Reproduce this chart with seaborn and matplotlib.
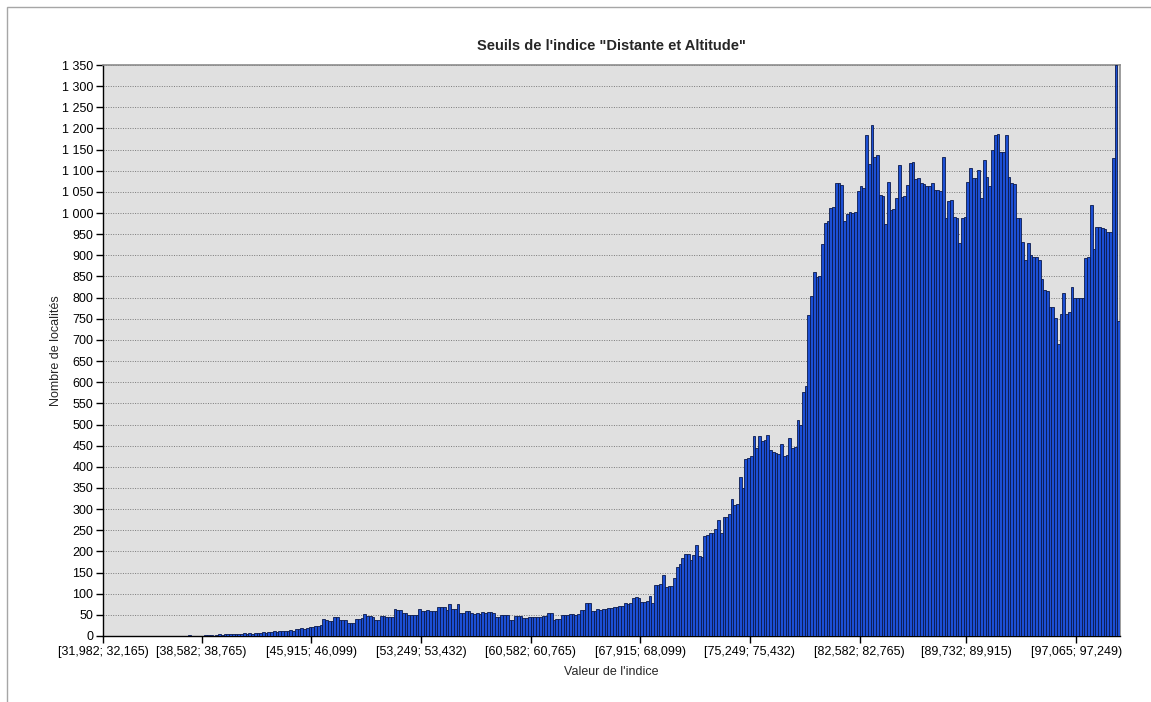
import pandas as pd
import matplotlib
matplotlib.use("Agg")
import matplotlib.pyplot as plt
import matplotlib.ticker as mticker
from matplotlib.patches import Rectangle
import seaborn as sns

# counts per class (371 classes)
counts = [
    0, 0, 0, 0, 0, 0, 0, 0, 0, 0,
    0, 0, 0, 0, 0, 0, 0, 0, 0, 0,
    0, 0, 0, 0, 0, 0, 0, 0, 0, 0,
    0, 3, 0, 0, 0, 0, 0, 3, 3, 2,
    0, 2, 4, 3, 4, 5, 4, 4, 5, 4,
    5, 6, 5, 6, 5, 8, 7, 8, 9, 8,
    10, 9, 11, 10, 11, 12, 13, 12, 14, 13,
    17, 16, 18, 17, 19, 21, 22, 24, 23, 25,
    41, 38, 35, 35, 45, 44, 38, 38, 38, 30,
    30, 31, 41, 41, 42, 53, 47, 47, 45, 38,
    38, 47, 47, 46, 45, 45, 63, 61, 61, 55,
    55, 50, 50, 50, 50, 65, 58, 60, 61, 59,
    58, 60, 69, 69, 69, 61, 76, 65, 65, 76,
    55, 55, 59, 59, 54, 52, 55, 53, 56, 54,
    56, 56, 54, 46, 46, 50, 50, 50, 39, 39,
    47, 47, 47, 42, 42, 44, 45, 44, 46, 45,
    47, 47, 54, 54, 39, 40, 41, 50, 50, 50,
    51, 52, 50, 53, 61, 61, 79, 78, 58, 60,
    63, 62, 64, 63, 67, 66, 68, 69, 70, 72,
    77, 76, 78, 90, 92, 91, 81, 80, 82, 95,
    77, 120, 121, 122, 144, 117, 118, 119, 136, 164,
    170, 184, 193, 193, 180, 191, 215, 188, 186, 236,
    238, 243, 243, 252, 274, 244, 282, 282, 288, 325,
    310, 312, 377, 349, 418, 422, 425, 473, 444, 473,
    461, 463, 475, 440, 436, 432, 430, 454, 426, 428,
    467, 444, 446, 511, 499, 578, 591, 759, 804, 861,
    848, 850, 927, 977, 980, 1013, 1015, 1070, 1072, 1066,
    981, 998, 1002, 1000, 1003, 1051, 1064, 1060, 1184, 1117,
    1207, 1133, 1137, 1043, 1040, 975, 1074, 1007, 1010, 1036,
    1114, 1038, 1040, 1066, 1119, 1121, 1081, 1083, 1070, 1068,
    1064, 1064, 1072, 1054, 1054, 1052, 1133, 989, 1029, 1031,
    990, 988, 928, 988, 990, 1074, 1106, 1082, 1084, 1101,
    1036, 1125, 1085, 1064, 1149, 1184, 1186, 1145, 1145, 1184,
    1085, 1071, 1068, 988, 988, 932, 889, 928, 900, 897,
    895, 889, 845, 819, 815, 778, 778, 753, 690, 761,
    810, 761, 765, 826, 798, 800, 798, 800, 893, 895,
    1019, 916, 968, 966, 964, 962, 956, 955, 1129, 1350,
    744,
]

# classes that carry a label on the x axis
tick_bins = [0, 36, 76, 116, 156, 196, 236, 276, 315, 355]
tick_labels = ["[31,982; 32,165)", "[38,582; 38,765)", "[45,915; 46,099)",
               "[53,249; 53,432)", "[60,582; 60,765)", "[67,915; 68,099)",
               "[75,249; 75,432)", "[82,582; 82,765)", "[89,732; 89,915)",
               "[97,065; 97,249)"]

df = pd.DataFrame({"classe": range(len(counts)), "n": counts})

sns.set_style("white")
plt.rcParams["font.family"] = ["Liberation Sans", "DejaVu Sans"]

fig = plt.figure(figsize=(11.51, 7.02), dpi=100)
ax = fig.add_axes([103 / 1151, 66 / 702, 1017 / 1151, 571 / 702])
ax.set_facecolor("#e0e0e0")

sns.barplot(data=df, x="classe", y="n", ax=ax, width=1.0,
            color="#1c4fd4", edgecolor="#0b1a4d", linewidth=0.6,
            saturation=1, zorder=3)

ax.set_xlim(-0.5, len(counts) - 0.5)
ax.set_ylim(0, 1350)
ax.set_yticks(range(0, 1351, 50))
ax.yaxis.set_major_formatter(mticker.FuncFormatter(lambda v, p: f"{int(v):,}".replace(",", " ")))
ax.set_xticks([b - 0.5 for b in tick_bins])
ax.set_xticklabels(tick_labels)

ax.grid(axis="y", color="#7a7a7a", linestyle=(0, (1, 1.5)), linewidth=0.7, zorder=0)
ax.grid(axis="x", visible=False)
ax.tick_params(axis="both", labelsize=9, length=5, width=1, color="#000000",
               direction="out", pad=2, labelcolor="#000000")
ax.tick_params(axis="y", left=True)
ax.tick_params(axis="x", bottom=True)

for side in ["top", "right"]:
    ax.spines[side].set_color("#8c8c8c")
    ax.spines[side].set_linewidth(1.2)
for side in ["left", "bottom"]:
    ax.spines[side].set_color("#000000")
    ax.spines[side].set_linewidth(1.0)

ax.set_xlabel("Valeur de l'indice", fontsize=9, labelpad=6)
ax.set_ylabel("Nombre de localités", fontsize=9, labelpad=0)
ax.set_title("Seuils de l'indice \"Distante et Altitude\"", fontsize=10.5,
             fontweight="bold", pad=11)

# chart area frame
fig.add_artist(Rectangle((7 / 1151, -0.05), 1.1, (702 - 7) / 702 + 0.05,
                         transform=fig.transFigure, fill=False,
                         edgecolor="#a6a6a6", linewidth=1))

fig.savefig("out.png", dpi=100, facecolor="white")
